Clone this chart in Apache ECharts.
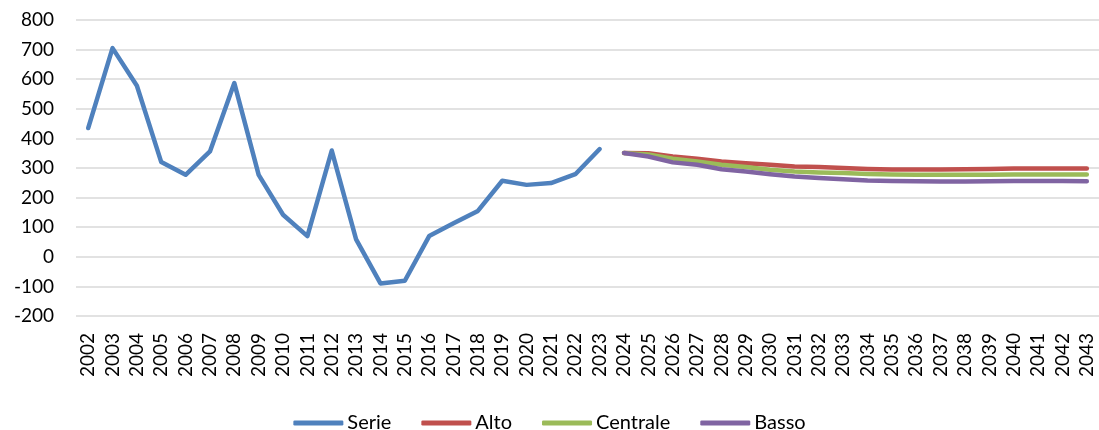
<!DOCTYPE html>
<html>
<head>
<meta charset="utf-8">
<script src="https://cdn.jsdelivr.net/npm/echarts@6/dist/echarts.min.js"></script>
<style>html,body{margin:0;padding:0;background:#fff;}#c{width:1099px;height:430px;}</style>
</head>
<body>
<div id="c"></div>
<script>
var years = [];
for (var y = 2002; y <= 2043; y++) years.push(String(y));
var serie = [435, 705, 578, 320, 277, 356, 587, 277, 142, 70, 359, 59, -90, -81, 70, 113, 155, 257, 243, 249, 279, 364];
var alto = [351, 350, 339, 331, 322, 316, 311, 305, 303, 300, 297, 295, 295, 295, 296, 297, 298, 298, 298, 298];
var centrale = [351, 346, 331, 322, 311, 303, 294, 288, 285, 283, 280, 278, 277, 277, 277, 277, 278, 278, 278, 278];
var basso = [351, 339, 319, 311, 296, 288, 279, 271, 266, 262, 258, 256, 255, 254, 254, 255, 256, 256, 256, 255];
var yTicks = { min: -200, max: 800, interval: 100 };

function pad(arr, before, total) {
  var out = [];
  for (var i = 0; i < total; i++) {
    var j = i - before;
    out.push(j >= 0 && j < arr.length ? arr[j] : null);
  }
  return out;
}
var n = years.length;
var font = 'Lato';
function mk(name, data, color) {
  return {
    name: name, type: 'line', data: data, showSymbol: false, symbol: 'none',
    connectNulls: false, animation: false,
    lineStyle: { color: color, width: 4.5, cap: 'round', join: 'round' },
    itemStyle: { color: color }
  };
}
var chart = echarts.init(document.getElementById('c'));
chart.setOption({
  backgroundColor: '#fff',
  animation: false,
  grid: { left: 76, right: 0, top: 20, bottom: 114, containLabel: false },
  legend: {
    top: 408, left: 'center',
    icon: 'roundRect', itemWidth: 50, itemHeight: 5, itemGap: 30,
    textStyle: { fontFamily: font, fontSize: 20, color: '#000', padding: [0, 0, 0, -1] },
    data: ['Serie', 'Alto', 'Centrale', 'Basso']
  },
  xAxis: {
    type: 'category', data: years, boundaryGap: true,
    axisLine: { show: false }, axisTick: { show: false },
    axisLabel: { rotate: 90, interval: 0, margin: 17, fontFamily: font, fontSize: 19, color: '#000' }
  },
  yAxis: {
    type: 'value', min: yTicks.min, max: yTicks.max, interval: yTicks.interval,
    axisLine: { show: false }, axisTick: { show: false },
    splitLine: { lineStyle: { color: '#d9d9d9', width: 1.5 } },
    axisLabel: { margin: 22, fontFamily: font, fontSize: 19, color: '#000' }
  },
  series: [
    mk('Serie', pad(serie, 0, n), '#4F81BD'),
    mk('Alto', pad(alto, 22, n), '#C0504D'),
    mk('Centrale', pad(centrale, 22, n), '#9BBB59'),
    mk('Basso', pad(basso, 22, n), '#8064A2')
  ]
});
</script>
</body>
</html>
